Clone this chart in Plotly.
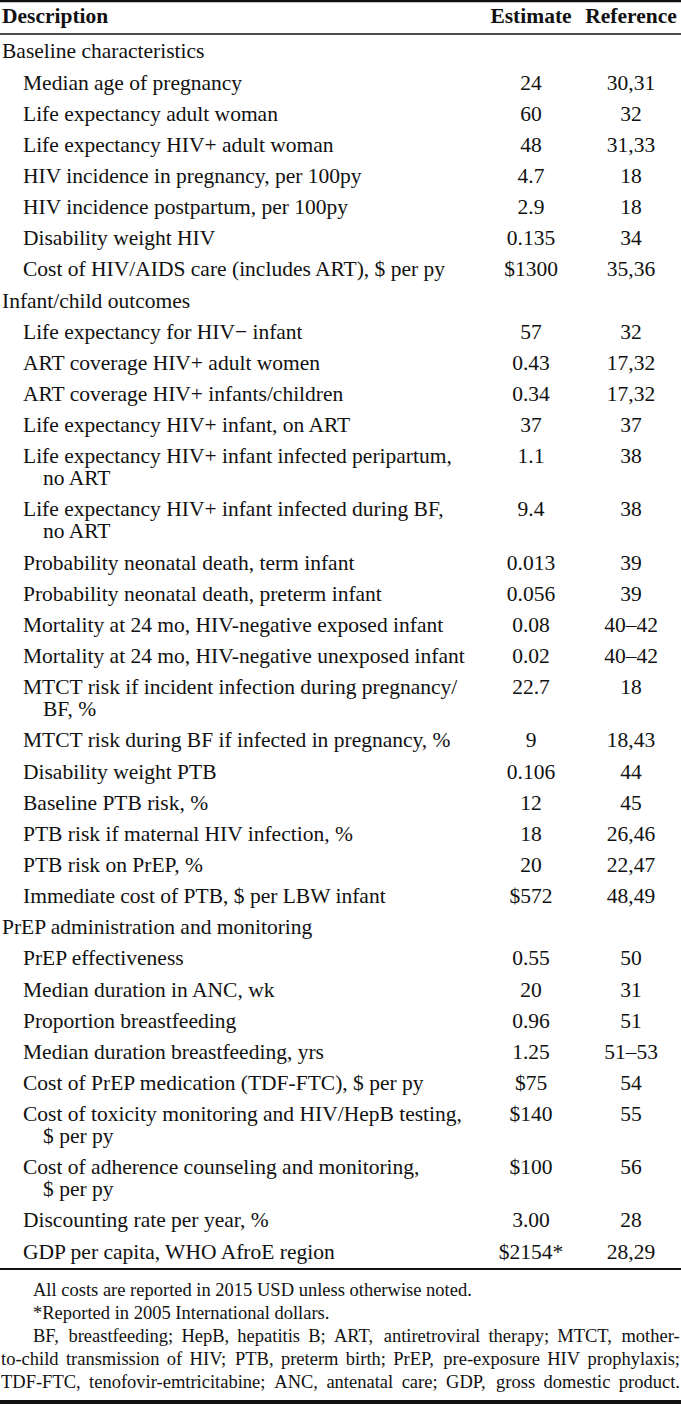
import plotly.graph_objects as go

# ---------------- data ----------------
col_headers = ["Description", "Estimate", "Reference"]

row_kind = [
    "sec", "item", "item", "item", "item", "item", "item", "item",
    "sec", "item", "item", "item", "item", "item", "item", "item", "item",
    "item", "item", "item", "item", "item", "item", "item", "item", "item",
    "sec", "item", "item", "item", "item", "item", "item", "item", "item", "item",
]

descriptions = [
    "Baseline characteristics",
    "Median age of pregnancy",
    "Life expectancy adult woman",
    "Life expectancy HIV+ adult woman",
    "HIV incidence in pregnancy, per 100py",
    "HIV incidence postpartum, per 100py",
    "Disability weight HIV",
    "Cost of HIV/AIDS care (includes ART), $ per py",
    "Infant/child outcomes",
    "Life expectancy for HIV\u2212 infant",
    "ART coverage HIV+ adult women",
    "ART coverage HIV+ infants/children",
    "Life expectancy HIV+ infant, on ART",
    "Life expectancy HIV+ infant infected peripartum,|no ART",
    "Life expectancy HIV+ infant infected during BF,|no ART",
    "Probability neonatal death, term infant",
    "Probability neonatal death, preterm infant",
    "Mortality at 24 mo, HIV-negative exposed infant",
    "Mortality at 24 mo, HIV-negative unexposed infant",
    "MTCT risk if incident infection during pregnancy/|BF, %",
    "MTCT risk during BF if infected in pregnancy, %",
    "Disability weight PTB",
    "Baseline PTB risk, %",
    "PTB risk if maternal HIV infection, %",
    "PTB risk on PrEP, %",
    "Immediate cost of PTB, $ per LBW infant",
    "PrEP administration and monitoring",
    "PrEP effectiveness",
    "Median duration in ANC, wk",
    "Proportion breastfeeding",
    "Median duration breastfeeding, yrs",
    "Cost of PrEP medication (TDF-FTC), $ per py",
    "Cost of toxicity monitoring and HIV/HepB testing,|$ per py",
    "Cost of adherence counseling and monitoring,|$ per py",
    "Discounting rate per year, %",
    "GDP per capita, WHO AfroE region",
]

estimates = [
    "", "24", "60", "48", "4.7", "2.9", "0.135", "$1300",
    "", "57", "0.43", "0.34", "37", "1.1", "9.4", "0.013", "0.056",
    "0.08", "0.02", "22.7", "9", "0.106", "12", "18", "20", "$572",
    "", "0.55", "20", "0.96", "1.25", "$75", "$140", "$100", "3.00", "$2154*",
]

references = [
    "", "30,31", "32", "31,33", "18", "18", "34", "35,36",
    "", "32", "17,32", "17,32", "37", "38", "38", "39", "39",
    "40\u201342", "40\u201342", "18", "18,43", "44", "45", "26,46", "22,47", "48,49",
    "", "50", "31", "51", "51\u201353", "54", "55", "56", "28", "28,29",
]

footnotes = [
    "All costs are reported in 2015 USD unless otherwise noted.",
    "*Reported in 2005 International dollars.",
    "BF, breastfeeding; HepB, hepatitis B; ART, antiretroviral therapy; MTCT, mother-|"
    "to-child transmission of HIV; PTB, preterm birth; PrEP, pre-exposure HIV prophylaxis;|"
    "TDF-FTC, tenofovir-emtricitabine; ANC, antenatal care; GDP, gross domestic product.",
]

# ---------------- layout constants ----------------
W, H = 681, 1406
FONT = "Liberation Serif, Times New Roman, serif"
INK = "#111111"
BODY_SIZE = 21.5
NOTE_SIZE = 18.5
HEADER_Y = 18
FIRST_ROW_Y = 53
ROW_PITCH = 31.15
WRAP_STEP = 22
X_SEC, X_ITEM, X_WRAP = 2, 23, 43
X_EST, X_REF = 531, 631
NOTE_FIRST_Y = 1291
NOTE_PITCH = 23
NOTE_INDENT, NOTE_WRAP = 33, 1
NOTE_RIGHT = 680

# Times-metric advance widths (per 1000 em) used to justify the footnote lines
_TW = {" ": 250, ",": 250, ".": 250, ";": 278, "-": 333, "*": 500}
_TW.update({c: 500 for c in "0123456789"})
_TW.update(dict(zip("ABCDEFGHIJKLMNOPQRSTUVWXYZ",
                    [722, 667, 667, 722, 611, 556, 722, 722, 333, 389, 722, 611, 889,
                     722, 722, 556, 722, 667, 556, 611, 722, 722, 944, 722, 722, 611])))
_TW.update(dict(zip("abcdefghijklmnopqrstuvwxyz",
                    [444, 500, 444, 500, 444, 333, 500, 500, 278, 278, 500, 278, 778,
                     500, 500, 500, 500, 333, 389, 278, 500, 500, 722, 500, 500, 444])))

def text_w(s, size):
    return sum(_TW.get(c, 500) for c in s) * size / 1000.0

# ---------------- compute text positions ----------------
dx, dy, dt = [], [], []
ex, ey, et = [], [], []
rx, ry, rt = [], [], []
y = FIRST_ROW_Y
for kind, desc, est, ref in zip(row_kind, descriptions, estimates, references):
    lines = desc.split("|")
    for i, ln in enumerate(lines):
        dx.append(X_SEC if kind == "sec" else (X_ITEM if i == 0 else X_WRAP))
        dy.append(y + i * WRAP_STEP)
        dt.append(ln)
    if est:
        ex.append(X_EST); ey.append(y); et.append(est)
    if ref:
        rx.append(X_REF); ry.append(y); rt.append(ref)
    y += ROW_PITCH + (len(lines) - 1) * WRAP_STEP

nx, ny, nt = [], [], []
yy = NOTE_FIRST_Y
for note in footnotes:
    parts = note.split("|")
    for i, ln in enumerate(parts):
        x0 = NOTE_INDENT if i == 0 else NOTE_WRAP
        if len(parts) == 1:
            nx.append(x0); ny.append(yy); nt.append(ln)
        else:
            # justified paragraph line: spread words across the full width
            words = ln.split(" ")
            ws = [text_w(w, NOTE_SIZE) for w in words]
            gap = (NOTE_RIGHT - x0 - sum(ws)) / (len(words) - 1)
            cx = x0
            for w, wwid in zip(words, ws):
                nx.append(cx); ny.append(yy); nt.append(w)
                cx += wwid + gap
        yy += NOTE_PITCH

fig = go.Figure()

def txt(x, y, t, pos, size):
    fig.add_trace(go.Scatter(
        x=x, y=y, text=t, mode="text", textposition=pos,
        textfont=dict(family=FONT, size=size, color=INK),
        hoverinfo="skip", showlegend=False,
    ))

# header
txt([X_SEC], [HEADER_Y], ["<b>" + col_headers[0] + "</b>"], "middle right", BODY_SIZE)
txt([X_EST, X_REF], [HEADER_Y, HEADER_Y],
    ["<b>" + col_headers[1] + "</b>", "<b>" + col_headers[2] + "</b>"], "middle center", BODY_SIZE)
# body
txt(dx, dy, dt, "middle right", BODY_SIZE)
txt(ex, ey, et, "middle center", BODY_SIZE)
txt(rx, ry, rt, "middle center", BODY_SIZE)
# footnotes
txt(nx, ny, nt, "middle right", NOTE_SIZE)

# rules
rules = [(1, 2.5), (34, 1.3), (1269, 1.8), (1402, 4)]
for ry_, lw in rules:
    fig.add_shape(type="line", xref="x", yref="y", x0=0, x1=W, y0=ry_, y1=ry_,
                  line=dict(color=INK, width=lw))

fig.update_layout(
    width=W, height=H,
    margin=dict(l=0, r=0, t=0, b=0),
    paper_bgcolor="white", plot_bgcolor="white",
    xaxis=dict(range=[0, W], visible=False, fixedrange=True),
    yaxis=dict(range=[H, 0], visible=False, fixedrange=True),
)

fig.write_html("out.html", config={"displayModeBar": False},
               post_script="document.body.style.margin='0';document.body.style.overflow='hidden';")
